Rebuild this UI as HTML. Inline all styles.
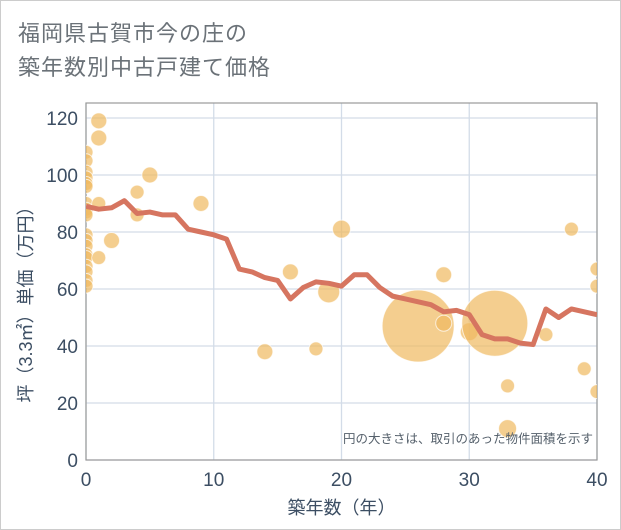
<!DOCTYPE html>
<html><head><meta charset="utf-8"><style>
body{margin:0;background:#fff;}
.wrap{position:relative;width:619px;height:528px;border:1px solid #ccc;background:#fff;font-family:"Liberation Sans","Noto Sans CJK JP",sans-serif;}
.title{position:absolute;left:17px;top:16px;font-size:22px;line-height:34px;color:#6b7278;letter-spacing:1px;}
</style></head><body>
<div class="wrap">
<div class="title">福岡県古賀市今の庄の<br>築年数別中古戸建て価格</div>
<svg id="chart" width="621" height="530" style="position:absolute;left:-1px;top:-1px"></svg>
</div>
<script>
const years=[0,1,2,3,4,5,6,7,8,9,10,11,12,13,14,15,16,17,18,19,20,21,22,23,24,25,26,27,28,29,30,31,32,33,34,35,36,37,38,39,40];
const avgPrice=[89,88,88.5,91,86.5,87,86,86,81,80,79,77.5,67,66,64,63,56.5,60.5,62.5,62,61,65,65,60.5,57.5,56.5,55.5,54.5,52,52.5,51,44,42.5,42.5,41,40.5,53,50,53,52,51];
const ptAge=[0,0,0,0,0,0,0,0,0,0,0,0,0,0,0,0,0,0,0,1,1,1,1,2,4,4,5,9,14,16,18,19,20,26,28,28,30,32,33,33,36,38,39,40,40,40];
const ptPrice=[108,105,101,99,97,96,90,88,87,86,79,77,75,72,71,68,66,63,61,119,113,90,71,77,94,86,100,90,38,66,39,59,81,47,65,48,45,48,26,11,44,81,32,67,61,24];
const ptSize=[7,7,7,7,7,7,7,7,7,7,7,7,7,7,7,7,7,7,7,8,8,7,7,8,7,7,8,8,8,8,7,11,9,36,8,8,9,33,7,9,7,7,7,7,7,7];
const yTicks=[0,20,40,60,80,100,120];
const xTicks=[0,10,20,30,40];
const L=86,R=597,T=103,B=460;
const X=v=>L+v*(R-L)/40;
const Y=v=>B-v*(B-118)/120;
const ns="http://www.w3.org/2000/svg";
const svg=document.getElementById('chart');
function mk(tag,attrs,parent){const e=document.createElementNS(ns,tag);for(const k in attrs)e.setAttribute(k,attrs[k]);(parent||svg).appendChild(e);return e;}
const defs=mk('defs',{});const cp=mk('clipPath',{id:'clip'},defs);mk('rect',{x:L,y:T,width:R-L,height:B-T},cp);
const grid=mk('g',{});


yTicks.forEach(t=>{
 mk('line',{x1:L,x2:R,y1:Y(t),y2:Y(t),stroke:'#d3dce8','stroke-width':1.3},grid);
 const tx=mk('text',{x:L-8,y:Y(t)+7,'text-anchor':'end','font-size':19,fill:'#3c4e63'});
 tx.textContent=t;
 
 
});
xTicks.forEach(t=>{
 mk('line',{x1:X(t),x2:X(t),y1:T,y2:B,stroke:'#d3dce8','stroke-width':1.3},grid);
 const tx=mk('text',{x:X(t),y:B+26,'text-anchor':'middle','font-size':19,fill:'#3c4e63'});
 tx.textContent=t;
 
 
});
const frame=mk('rect',{x:L,y:T,width:R-L,height:B-T,fill:'none',stroke:'#999','stroke-width':1.2});


const pts=mk('g',{'clip-path':'url(#clip)'});
ptAge.forEach((a,i)=>{
 const c=mk('circle',{cx:X(a),cy:Y(ptPrice[i]),r:ptSize[i],fill:'rgba(240,185,95,0.7)',stroke:'rgba(255,255,255,0.7)','stroke-width':1},pts);
 
 
});
const line=mk('polyline',{points:years.map((y,i)=>X(y)+','+Y(avgPrice[i])).join(' '),fill:'none',stroke:'#d67560','stroke-width':5,'stroke-linejoin':'round','clip-path':'url(#clip)'});


const note=mk('text',{x:R-4,y:443,'text-anchor':'end','font-size':12.5,fill:'#55606b'});
note.textContent='円の大きさは、取引のあった物件面積を示す';


const xt=mk('text',{x:(L+R)/2,y:514,'text-anchor':'middle','font-size':18,fill:'#3c4e63'});
xt.textContent='築年数（年）';


const yt=mk('text',{x:0,y:0,'text-anchor':'middle','font-size':18,fill:'#3c4e63',transform:'translate(32,300) rotate(-90)'});
yt.textContent='坪（3.3㎡）単価（万円）';


</script>
</body></html>
